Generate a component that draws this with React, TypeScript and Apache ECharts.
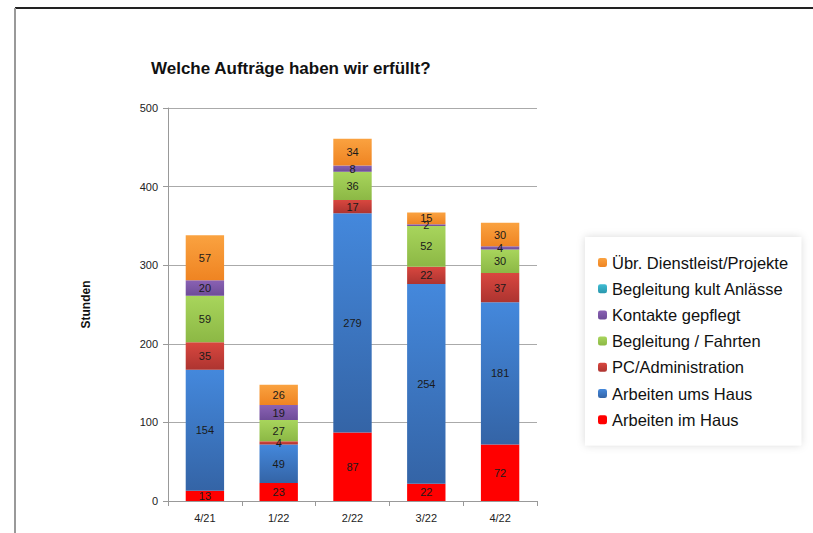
import React, { useEffect, useRef } from "react";
import * as echarts from "echarts";

const categories = ["4/21", "1/22", "2/22", "3/22", "4/22"];
const arbeitenImHaus = [13, 23, 87, 22, 72];
const arbeitenUmsHaus = [154, 49, 279, 254, 181];
const pcAdministration = [35, 4, 17, 22, 37];
const begleitungFahrten = [59, 27, 36, 52, 30];
const kontakteGepflegt = [20, 19, 8, 2, 4];
const begleitungKult = [0, 0, 0, 0, 0];
const uebrDienstleist = [57, 26, 34, 15, 30];
const yTicks = { min: 0, max: 500, interval: 100 };

const FONT = "'Liberation Sans', Arial, sans-serif";

function grad(top: string, bottom: string) {
  return new echarts.graphic.LinearGradient(0, 0, 0, 1, [
    { offset: 0, color: top },
    { offset: 1, color: bottom },
  ]);
}

export default function App() {
  const ref = useRef<HTMLDivElement>(null);
  useEffect(() => {
    if (!ref.current) return;
    const chart = echarts.init(ref.current, undefined, { renderer: "svg" });
    const mk = (name: string, data: number[], color: any) => ({
      name,
      type: "bar",
      stack: "total",
      data,
      barWidth: "52%",
      itemStyle: { color },
      label: {
        show: true,
        position: "inside",
        fontSize: 11,
        fontFamily: FONT,
        color: "#1a1a1a",
        formatter: (p: any) => (p.value > 0 ? String(p.value) : ""),
      },
    });
    const series = [
      mk("Arbeiten im Haus", arbeitenImHaus, "#ff0000"),
      mk("Arbeiten ums Haus", arbeitenUmsHaus, grad("#4488dc", "#3464a6")),
      mk("PC/Administration", pcAdministration, grad("#d9473f", "#ad3430")),
      mk("Begleitung / Fahrten", begleitungFahrten, grad("#a8d55c", "#8cb845")),
      mk("Kontakte gepflegt", kontakteGepflegt, grad("#8a62b4", "#6e4c98")),
      mk("Begleitung kult Anlässe", begleitungKult, grad("#3fbcd3", "#2a97ad")),
      mk("Übr. Dienstleist/Projekte", uebrDienstleist, grad("#faa240", "#ef8422")),
    ];
    chart.setOption({
      animation: false,
      backgroundColor: "#ffffff",
      textStyle: { fontFamily: FONT },
      title: {
        text: "Welche Aufträge haben wir erfüllt?",
        left: 146,
        top: 55,
        textStyle: { fontSize: 17, fontWeight: "bold", color: "#111", fontFamily: FONT },
      },
      grid: { left: 168, right: 276, top: 108, bottom: 32 },
      legend: {
        orient: "vertical",
        left: 585,
        top: 237,
        padding: [17, 13, 17, 13],
        itemGap: 9.2,
        itemWidth: 9,
        itemHeight: 9,
        backgroundColor: "#ffffff",
        shadowBlur: 8,
        shadowColor: "rgba(0,0,0,0.15)",
        textStyle: { fontSize: 16.5, color: "#111", fontFamily: FONT, lineHeight: 16.5 },
        data: [
          "Übr. Dienstleist/Projekte",
          "Begleitung kult Anlässe",
          "Kontakte gepflegt",
          "Begleitung / Fahrten",
          "PC/Administration",
          "Arbeiten ums Haus",
          "Arbeiten im Haus",
        ],
      },
      xAxis: {
        type: "category",
        data: categories,
        axisLine: { lineStyle: { color: "#999" } },
        axisTick: { show: true, length: 5, lineStyle: { color: "#999" } },
        axisLabel: { fontSize: 11, color: "#222", margin: 11, fontFamily: FONT },
      },
      yAxis: {
        type: "value",
        min: yTicks.min,
        max: yTicks.max,
        interval: yTicks.interval,
        name: "Stunden",
        nameLocation: "middle",
        nameGap: 76,
        nameTextStyle: { fontSize: 12, fontWeight: "bold", color: "#111", fontFamily: FONT },
        axisLine: { show: true, lineStyle: { color: "#999" } },
        axisTick: { show: true, length: 5, lineStyle: { color: "#999" } },
        axisLabel: { fontSize: 11, color: "#222", margin: 10, fontFamily: FONT },
        splitLine: { lineStyle: { color: "#aaa", width: 1 } },
      },
      graphic: [
        { type: "line", shape: { x1: 15, y1: 8, x2: 813, y2: 8 }, style: { stroke: "#222", lineWidth: 2 } },
        { type: "line", shape: { x1: 15, y1: 8, x2: 15, y2: 533 }, style: { stroke: "#999", lineWidth: 2 } },
      ],
      series,
    });
    return () => chart.dispose();
  }, []);
  return <div ref={ref} style={{ width: 813, height: 533, position: "absolute", left: 0, top: 0 }} />;
}
